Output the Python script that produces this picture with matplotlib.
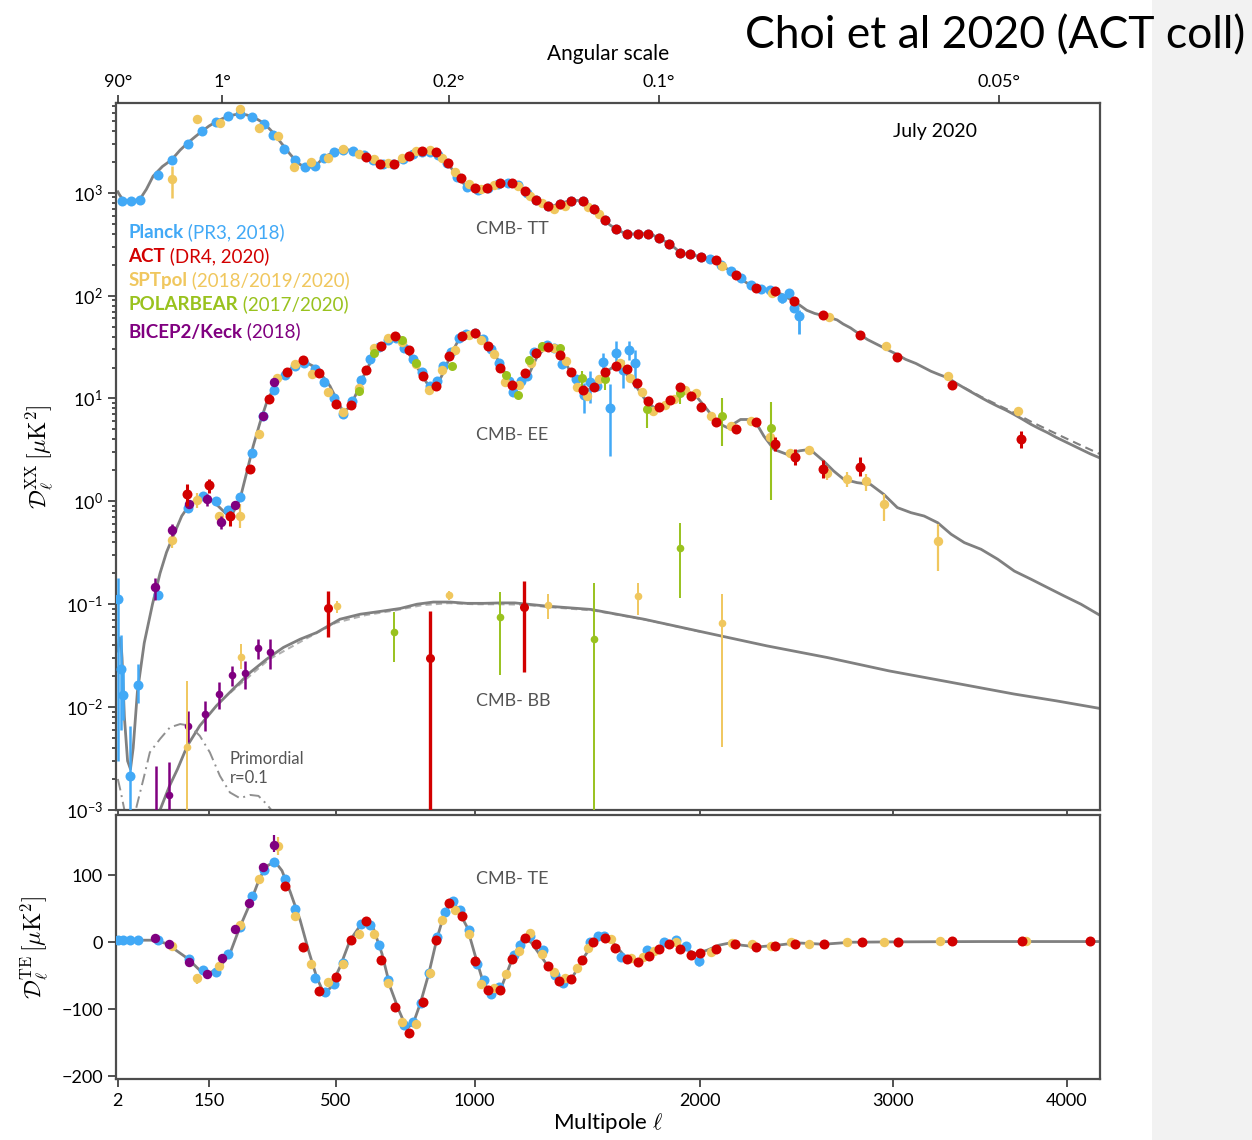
import numpy as np
import matplotlib
matplotlib.use("Agg")
import matplotlib.pyplot as plt
from matplotlib.patches import Rectangle
from matplotlib.ticker import FixedLocator, NullLocator, LogLocator, NullFormatter

plt.rcParams['font.family'] = ['Lato', 'DejaVu Sans']
plt.rcParams['mathtext.fontset'] = 'cm'

c_planck = "#42a9f6"
c_act = "#d20000"
c_spt = "#f0c75e"
c_pb = "#99c21e"
c_bk = "#800080"
c_th = "#808080"

# ---- theory curves (ell, D_ell)
tt_theory = [(2, 1020), (3, 960), (5, 880), (9, 840), (14, 835), (24, 860), (33, 1080), (43, 1450), (58, 1800),
             (74, 2090), (90, 2600), (105, 3055), (120, 3500), (134, 3940), (150, 4450), (167, 4920), (183, 5300),
             (199, 5600), (212, 5750), (224, 5800), (240, 5720), (254, 5510), (270, 5150), (286, 4750), (300, 4250),
             (312, 3830), (330, 3200), (346, 2735), (360, 2380), (375, 2090), (390, 1880), (405, 1786), (420, 1770),
             (435, 1828), (448, 1980), (460, 2188), (476, 2330), (492, 2444), (508, 2560), (524, 2614), (540, 2610),
             (557, 2557), (574, 2440), (591, 2286), (608, 2180), (625, 2090), (643, 1990), (660, 1914), (678, 1890),
             (695, 1914), (713, 2010), (731, 2140), (749, 2280), (767, 2393), (785, 2480), (800, 2502), (815, 2510),
             (830, 2502), (843, 2450), (856, 2338), (875, 2150), (893, 1954), (912, 1700), (932, 1429), (952, 1260),
             (972, 1143), (992, 1090), (1012, 1075), (1032, 1090), (1052, 1118), (1072, 1170), (1093, 1223),
             (1115, 1245), (1135, 1250), (1154, 1242), (1180, 1160), (1204, 1046), (1230, 940), (1253, 855),
             (1278, 790), (1302, 736), (1328, 750), (1353, 782), (1378, 815), (1403, 836), (1428, 842), (1453, 836),
             (1478, 780), (1503, 700), (1527, 610), (1551, 538), (1576, 485), (1601, 447), (1626, 418), (1652, 400),
             (1678, 398), (1704, 400), (1728, 402), (1752, 400), (1777, 385), (1802, 360), (1827, 340), (1852, 318),
             (1878, 290), (1903, 262), (1926, 255), (1950, 253), (1975, 246), (2002, 236), (2040, 226), (2075, 214),
             (2108, 195), (2140, 178), (2178, 160), (2217, 138), (2250, 126), (2276, 119), (2300, 117), (2326, 116),
             (2350, 114), (2376, 110), (2420, 100), (2470, 88), (2500, 81), (2538, 72), (2580, 67), (2624, 64),
             (2660, 61), (2698, 58), (2730, 53), (2770, 48.5), (2815, 42.5), (2861, 37.4), (2900, 34.5),
             (2933, 32.2), (2980, 29.2), (3024, 26.7), (3070, 24), (3127, 21.9), (3170, 20), (3211, 18.4),
             (3260, 17), (3306, 15.9), (3350, 14.2), (3398, 12.7), (3450, 11.3), (3496, 10.2), (3545, 9.2),
             (3592, 8.4), (3640, 7.7), (3687, 7.0), (3735, 6.3), (3787, 5.6), (3835, 5.1), (3885, 4.65),
             (3935, 4.2), (3983, 3.85), (4035, 3.5), (4085, 3.2), (4140, 2.9), (4200, 2.64)]
tt_theory_fg = [(3398, 12.8), (3496, 10.4), (3592, 8.65), (3687, 7.3), (3787, 5.95), (3885, 4.98),
                (3983, 4.18), (4085, 3.5), (4200, 2.88)]

ee_theory = [(2, 0.035), (3, 0.047), (4, 0.046), (5, 0.03), (7, 0.008), (10, 0.003), (13, 0.0025), (16, 0.004),
             (21, 0.014), (30, 0.042), (42, 0.1), (54, 0.2), (65, 0.32), (77, 0.46), (93, 0.72), (109, 0.935),
             (130, 1.087), (152, 1.05), (171, 0.9), (191, 0.75), (207, 0.78), (224, 1.05), (241, 1.9), (258, 3.44),
             (276, 5.8), (294, 9.1), (318, 13.7), (346, 17.8), (375, 20.9), (400, 23), (430, 20.6), (455, 17.1),
             (482, 13.2), (503, 9.8), (525, 7.4), (547, 8.3), (569, 11.4), (592, 16.5), (620, 23.9), (655, 32.2),
             (684, 37.4), (708, 38.8), (731, 32.2), (761, 24.8), (793, 17.8), (824, 13.2), (849, 12.7), (879, 17.8),
             (905, 25.8), (938, 37.4), (970, 41.5), (997, 43.4), (1025, 40), (1050, 34.7), (1089, 24.8),
             (1130, 16.5), (1173, 12.7), (1215, 15.9), (1257, 25.8), (1299, 32.2), (1343, 29.9), (1386, 20.6),
             (1430, 13.7), (1474, 11.8), (1518, 14.7), (1562, 18.4), (1607, 21.4), (1652, 17.1), (1700, 12.7),
             (1747, 9.1), (1794, 7.8), (1842, 8.75), (1890, 10.2), (1938, 11.8), (1986, 10.2), (2034, 7.8),
             (2084, 5.8), (2134, 5.2), (2199, 6.25), (2267, 6.25), (2317, 4.3), (2368, 3.2), (2436, 2.86),
             (2500, 3.1), (2555, 3.2), (2627, 2.46), (2680, 1.97), (2733, 1.64), (2805, 1.52), (2878, 1.46),
             (2950, 1.17), (3024, 0.87), (3100, 0.776), (3173, 0.72), (3249, 0.62), (3325, 0.479), (3400, 0.397),
             (3496, 0.342), (3592, 0.274), (3689, 0.21), (3787, 0.175), (3885, 0.145), (3985, 0.12), (4085, 0.1),
             (4200, 0.078)]

bb_theory = [(30, 0.00035), (40, 0.0006), (54, 0.001), (70, 0.0017), (85, 0.0025), (104, 0.0042), (130, 0.0066),
             (167, 0.0103), (207, 0.015), (250, 0.0217), (294, 0.0292), (341, 0.038), (390, 0.0457), (440, 0.053),
             (477, 0.0616), (514, 0.0715), (581, 0.08), (660, 0.086), (720, 0.091), (780, 0.1), (841, 0.105),
             (905, 0.105), (970, 0.102), (1036, 0.102), (1105, 0.103), (1163, 0.103), (1294, 0.096), (1490, 0.089),
             (1732, 0.0715), (2025, 0.053), (2331, 0.0394), (2647, 0.0303), (2978, 0.0225), (3325, 0.0174),
             (3687, 0.0134), (3937, 0.0115), (4200, 0.0097)]
bb_theory_alt = [(200, 0.0138), (300, 0.029), (400, 0.0448), (500, 0.066), (600, 0.0785), (700, 0.087),
                 (800, 0.098), (900, 0.1025), (1000, 0.1), (1100, 0.1), (1200, 0.099), (1300, 0.094),
                 (1500, 0.087), (1750, 0.07), (2000, 0.054)]

primordial_bb = [(2, 0.002), (4, 0.0015), (7, 0.001), (10, 0.0006), (14, 0.0004), (19, 0.001), (30, 0.00215),
                 (38, 0.00363), (54, 0.0049), (71, 0.00635), (90, 0.00684), (109, 0.0066), (130, 0.00525),
                 (152, 0.00363), (175, 0.00215), (199, 0.00148), (224, 0.0013), (250, 0.0014), (272, 0.00137),
                 (294, 0.00114), (307, 0.001), (320, 0.0008)]

te_theory = [(2, 3), (44, 3), (65, -2), (104, -24), (130, -42), (152, -46), (175, -37), (199, -17), (224, 23),
             (250, 58), (276, 97), (298, 115), (318, 120), (337, 107), (361, 75), (390, 33), (415, -12), (440, -52),
             (460, -74), (482, -69), (514, -37), (547, 3), (581, 25), (603, 30), (626, 20), (655, -17), (684, -67),
             (714, -101), (743, -129), (767, -121), (793, -91), (824, -47), (855, 6), (879, 38), (905, 59),
             (929, 53), (970, 23), (1004, -22), (1036, -62), (1071, -77), (1105, -70), (1150, -27), (1195, 6),
             (1230, 0), (1299, -34), (1358, -59), (1409, -52), (1460, -22), (1503, 0), (1547, 8), (1592, -2),
             (1646, -22), (1699, -29), (1753, -17), (1808, -7), (1864, 0), (1920, -9), (1977, -17), (2033, -12),
             (2091, -4.5), (2148, -1), (2205, -4.5), (2286, -7), (2385, -4.5), (2485, -1), (2627, -3), (2773, 0),
             (3000, 0.5), (3500, 1), (4200, 1)]

# ---- TT data (ell, D) and error bars (ell, low, high)
planck_tt = [(4.6, 836), (14, 836), (24, 855), (51, 1497), (75, 2060), (106, 2995), (135, 3940), (165, 4920),
             (195, 5510), (224, 5810), (254, 5430), (286, 4680), (313, 3656), (343, 2655), (375, 2060), (405, 1778),
             (435, 1800), (463, 2172), (496, 2461), (525, 2612), (556, 2570), (592, 2338), (625, 2090), (660, 1914),
             (695, 1914), (731, 2140), (767, 2393), (800, 2502), (830, 2502), (860, 2310), (893, 1954), (932, 1429),
             (972, 1143), (1012, 1075), (1052, 1118), (1093, 1223), (1135, 1250), (1175, 1180), (1215, 1000),
             (1253, 855), (1302, 736), (1353, 782), (1403, 836), (1453, 836), (1503, 700), (1551, 538), (1601, 447),
             (1652, 400), (1704, 400), (1752, 400), (1802, 360), (1852, 318), (1903, 260), (1950, 254), (2002, 236),
             (2050, 226), (2100, 200), (2150, 172), (2200, 147), (2250, 126), (2300, 117), (2350, 114), (2411, 95),
             (2445, 106), (2474, 76), (2500, 63)]
planck_tt_err = [(4.6, 770, 910), (2411, 85, 106), (2445, 97, 116), (2500, 42, 72)]

act_tt = [(600, 2250), (649, 1914), (699, 1914), (750, 2286), (799, 2518), (850, 2461), (898, 1942), (948, 1390),
          (1000, 1111), (1051, 1111), (1102, 1242), (1152, 1242), (1204, 1046), (1253, 855), (1302, 736), (1353, 782),
          (1403, 836), (1453, 836), (1503, 700), (1551, 538), (1601, 447), (1652, 400), (1704, 400), (1752, 400),
          (1802, 360), (1852, 318), (1903, 260), (1950, 254), (2002, 236), (2075, 224), (2178, 160), (2276, 119),
          (2376, 112), (2470, 88), (2623, 64.4), (2823, 41.8), (3024, 25.4), (3330, 13.6), (3728, 4.07)]
act_tt_err = [(3728, 3.3, 4.8)]

spt_tt = [(74, 1359), (124, 5220), (175, 4750), (224, 6550), (274, 4250), (325, 3596), (373, 1778), (423, 1970),
          (475, 2170), (525, 2655), (575, 2376), (626, 2123), (675, 1942), (726, 2172), (775, 2518), (827, 2576),
          (873, 2172), (925, 1574), (977, 1223), (1024, 1086), (1076, 1196), (1177, 1169), (1226, 920), (1275, 794),
          (1328, 700), (1375, 736), (1475, 726), (1524, 625), (2108, 195), (2360, 106), (2656, 62), (2960, 32.7),
          (3310, 16.5), (3710, 7.5)]
spt_tt_err = [(74, 889, 1800), (224, 5940, 7150), (3710, 6.9, 8.3)]

# ---- EE data
planck_ee = [(2.2, 0.112), (3.9, 0.0234), (6, 0.0131), (12.4, 0.00215), (22, 0.0165), (51, 0.123), (106, 0.855),
             (136, 1.13), (165, 1.0), (195, 0.82), (225, 1.1), (254, 2.97), (284, 6.7), (314, 12.0), (346, 17.1),
             (375, 20.9), (402, 22.2), (435, 19.4), (464, 14.4), (496, 10.0), (525, 7.1), (554, 9.4), (584, 15.1),
             (615, 24.3), (645, 31.5), (675, 36.8), (705, 38.5), (733, 31.0), (766, 24.3), (799, 18.0), (830, 13.2),
             (855, 14.7), (879, 20.9), (908, 28.0), (938, 38.8), (968, 42.0), (1000, 43.0), (1035, 38.0),
             (1065, 30.0), (1098, 22.2), (1137, 14.7), (1155, 11.5), (1187, 14.7), (1215, 16.5), (1243, 28.2),
             (1299, 32.9), (1330, 31.0), (1364, 21.4), (1423, 15.3), (1459, 10.9), (1485, 14.4), (1518, 13.2),
             (1545, 22.7), (1576, 8.1), (1604, 27.8), (1633, 19.1), (1662, 29.4), (1692, 22.2)]
planck_ee_err = [(2.2, 0.003, 0.18), (3.9, 0.006, 0.05), (6, 0.0075, 0.025), (12.4, 0.0008, 0.0065),
                 (22, 0.011, 0.026), (1459, 7.3, 14.2), (1485, 9.1, 18.4), (1545, 18.4, 27.8), (1576, 2.75, 13.7),
                 (1604, 21.4, 36.0), (1633, 12.7, 23.9), (1662, 23.9, 36.0), (1692, 12.7, 29.9)]

act_ee = [(104, 1.17), (151, 1.44), (200, 0.72), (250, 2.05), (302, 9.8), (351, 18.2), (400, 23.6), (448, 17.8),
          (500, 8.75), (550, 8.55), (600, 19.1), (651, 32.7), (700, 40.3), (750, 29.9), (802, 16.7), (852, 13.2),
          (902, 25.8), (950, 40.3), (1001, 43.4), (1052, 32.7), (1102, 19.9), (1152, 13.4), (1204, 17.8),
          (1253, 27.8), (1302, 31.8), (1353, 26.7), (1403, 18.2), (1453, 12.2), (1503, 13.0), (1551, 18.2),
          (1601, 20.6), (1652, 19.4), (1700, 14.0), (1752, 9.4), (1802, 8.2), (1854, 9.6), (1903, 12.9),
          (1955, 10.5), (2002, 8.3), (2079, 5.9), (2176, 5.0), (2276, 5.9), (2376, 3.57), (2475, 2.72),
          (2623, 2.05), (2823, 2.15)]
act_ee_err = [(104, 0.9, 1.46), (151, 1.21, 1.64), (200, 0.575, 0.805), (2376, 3.1, 4.2), (2475, 2.25, 3.25),
              (2623, 1.7, 2.5), (2823, 1.75, 2.7)]

spt_ee = [(74, 0.42), (124, 1.03), (173, 0.72), (224, 0.72), (274, 4.54), (324, 15.9), (375, 21.4), (425, 17.4),
          (475, 11.5), (525, 7.4), (575, 12.7), (626, 31.0), (675, 38.8), (726, 35.3), (775, 21.4), (825, 12.2),
          (874, 19.1), (925, 29.4), (977, 41.8), (1027, 37.4), (1076, 27.2), (1123, 14.4), (1180, 13.4),
          (1230, 22.2), (1277, 31.8), (1328, 31.0), (1380, 23.0), (1427, 13.0), (1474, 10.5), (1524, 15.3),
          (1620, 22.2), (1668, 15.9), (1722, 11.5), (1776, 7.5), (1830, 8.55), (1873, 9.9), (1926, 12.0),
          (1977, 11.4), (2053, 6.8), (2150, 5.4), (2250, 6.1), (2350, 4.2), (2450, 2.92), (2547, 3.13),
          (2645, 1.87), (2752, 1.64), (2854, 1.57), (2950, 0.935), (3252, 0.412)]
spt_ee_err = [(74, 0.35, 0.5), (124, 0.87, 1.2), (224, 0.55, 0.94), (2645, 1.6, 2.2), (2752, 1.37, 1.91),
              (2854, 1.26, 1.83), (2950, 0.64, 1.17), (3252, 0.21, 0.6)]

pb_ee = [(575, 11.8), (626, 27.8), (726, 36.8), (775, 22.2), (911, 20.6), (1126, 17.1), (1176, 10.7), (1222, 23.9),
         (1275, 32.7), (1354, 31.0), (1452, 15.9), (1551, 15.3), (1747, 7.9), (1903, 11.4), (2105, 6.7), (2354, 5.2)]
pb_ee_err = [(1452, 12.2, 18.4), (1551, 12.2, 17.1), (1747, 5.2, 9.1), (1903, 8.75, 12.7), (2105, 3.44, 10.0),
             (2354, 1.02, 9.2)]

bk_ee = [(46, 0.147), (74, 0.526), (107, 0.935), (145, 1.05), (178, 0.635), (212, 0.914), (283, 6.8), (314, 14.4)]
bk_ee_err = [(46, 0.11, 0.18), (74, 0.46, 0.6), (145, 0.9, 1.17), (178, 0.535, 0.72)]

# ---- BB data
bk_bb = [(48, 0.0007), (70, 0.0014), (106, 0.0066), (142, 0.00855), (173, 0.0134), (204, 0.0206), (238, 0.0214),
         (270, 0.0372), (304, 0.0347)]
bk_bb_err = [(48, 0.0005, 0.0027), (70, 0.0008, 0.0029), (106, 0.0046, 0.0092), (142, 0.0059, 0.0115),
             (173, 0.0096, 0.0174), (204, 0.0161, 0.0252), (238, 0.015, 0.0282), (270, 0.0292, 0.0457),
             (304, 0.0234, 0.0457)]
spt_bb = [(103, 0.0041), (227, 0.0308), (503, 0.0965), (902, 0.122), (1303, 0.0977), (1704, 0.12), (2105, 0.065)]
spt_bb_err = [(103, 0.0009, 0.018), (227, 0.0234, 0.041), (503, 0.083, 0.108), (902, 0.11, 0.135),
              (1303, 0.0715, 0.125), (1704, 0.078, 0.162), (2105, 0.0041, 0.125)]
act_bb = [(475, 0.0914), (830, 0.0297), (1200, 0.095)]
act_bb_err = [(475, 0.0485, 0.135), (830, 0.0005, 0.086), (1200, 0.0217, 0.168)]
pb_bb = [(699, 0.0538), (1100, 0.0754), (1503, 0.0457), (1903, 0.355)]
pb_bb_err = [(699, 0.0272, 0.0836), (1100, 0.0205, 0.131), (1503, 0.0005, 0.162), (1903, 0.116, 0.62)]

# ---- TE data
planck_te = [(2.2, 3), (6, 3), (12, 3), (22, 3), (51, 3), (108, -25), (136, -41), (165, -44), (195, -18), (225, 23),
             (256, 69), (286, 108), (315, 120), (346, 94), (375, 49), (435, -53), (467, -74), (496, -62), (525, -31),
             (584, 27), (615, 25), (646, -3.5), (675, -56), (733, -124), (766, -119), (796, -91), (824, -46), (855, 8),
             (886, 45), (915, 62), (944, 48), (977, 18), (1008, -33), (1036, -57), (1067, -78), (1098, -67),
             (1160, -19), (1183, -4.5), (1226, 9), (1279, -11), (1333, -49), (1367, -61), (1486, 0), (1521, 10),
             (1547, 10), (1628, -22), (1744, -12), (1825, 0), (1883, 3), (1930, -6), (1992, -28)]
planck_te_err = [(1992, -36, -20)]
act_te = [(346, 84), (400, -7), (448, -73), (500, -52), (550, 4), (600, 31), (651, -26), (700, -97), (750, -135),
          (802, -90), (852, 4), (902, 58), (950, 39), (1001, -28), (1052, -71), (1102, -71), (1152, -25), (1205, 6),
          (1250, -2), (1303, -36), (1350, -58), (1400, -55), (1452, -27), (1500, 0), (1552, 6), (1600, -8.5),
          (1651, -25), (1703, -29), (1753, -20), (1803, -9.5), (1852, -3), (1902, -9.5), (1954, -19), (1999, -16),
          (2075, -9.5), (2173, -2), (2276, -7), (2376, -6), (2478, -2), (2627, -2), (2830, 0), (3028, 0),
          (3331, 1.5), (3735, 1.5), (4140, 2)]
spt_te = [(75, -6), (124, -53), (173, -36), (224, 26), (274, 94), (325, 144), (375, 39), (423, -32), (475, -59),
          (525, -32), (575, 12), (626, 12), (675, -61), (726, -120), (775, -122), (827, -46), (873, 33), (925, 48),
          (977, 13), (1024, -63), (1076, -68), (1125, -48), (1180, -13), (1226, 14), (1275, -18), (1329, -45),
          (1375, -53), (1427, -38), (1478, -8.5), (1579, 5.5), (1673, -24), (1727, -22), (1780, -13), (1883, 0),
          (2053, -14), (2157, -1), (2257, -3), (2354, -6), (2454, 0), (2549, -2), (2752, 0), (2950, 0),
          (3260, 1.5), (3760, 1.5)]
spt_te_err = [(124, -62, -47), (325, 130, 157)]
bk_te = [(46, 6), (70, -3), (107, -29), (145, -48), (180, -24), (212, 19), (248, 58), (283, 112), (314, 145)]
bk_te_err = [(314, 135, 160)]

legend_names = ["Planck", "ACT", "SPTpol", "POLARBEAR", "BICEP2/Keck"]
legend_refs = [" (PR3, 2018)", " (DR4, 2020)", " (2018/2019/2020)", " (2017/2020)", " (2018)"]
legend_cols = [c_planck, c_act, c_spt, c_pb, c_bk]


def fwd(x):
    x = np.asarray(x, float)
    return np.sign(x) * np.abs(x) ** 0.7


def inv(y):
    y = np.asarray(y, float)
    return np.sign(y) * np.abs(y) ** (1 / 0.7)


def line(axis, data, **kw):
    a = np.array(data, float)
    axis.plot(a[:, 0], a[:, 1], **kw)


def dots(axis, data, color, ms=7, z=4):
    a = np.array(data, float)
    axis.plot(a[:, 0], a[:, 1], 'o', color=color, ms=ms, mec='none', zorder=z)


def bars(axis, data, color, lw=1.6, z=4):
    a = np.array(data, float)
    axis.vlines(a[:, 0], a[:, 1], a[:, 2], color=color, lw=lw, zorder=z)


fig = plt.figure(figsize=(12.52, 11.40), dpi=100)
fig.patches.append(Rectangle((1152 / 1252, 0), 100 / 1252, 1, transform=fig.transFigure,
                             facecolor="#f2f2f2", edgecolor="none", zorder=-5))

ax = fig.add_axes([0.0927, 0.2895, 0.7859, 0.6204])
axte = fig.add_axes([0.0927, 0.0532, 0.7859, 0.2318])

# theory
line(ax, tt_theory, color=c_th, lw=2, zorder=2)
line(ax, tt_theory_fg, color=c_th, lw=1.5, ls=(0, (4, 2.5)), zorder=2)
line(ax, ee_theory, color=c_th, lw=2, zorder=2)
line(ax, bb_theory_alt, color="#b0b0b0", lw=1.5, ls=(0, (3, 2)), zorder=2)
line(ax, bb_theory, color=c_th, lw=2, zorder=2)
line(ax, primordial_bb, color="#909090", lw=1.4, ls=(0, (6, 2.5, 1, 2.5)), zorder=2)
line(axte, te_theory, color=c_th, lw=2, zorder=2)

# TT
dots(ax, planck_tt, c_planck, 7.2, 3)
bars(ax, planck_tt_err, c_planck, 2, 3)
dots(ax, spt_tt, c_spt, 6.8, 4)
bars(ax, spt_tt_err, c_spt, 1.8, 4)
dots(ax, act_tt, c_act, 7.2, 5)
bars(ax, act_tt_err, c_act, 2.2, 5)
# EE
dots(ax, planck_ee, c_planck, 7.2, 3)
bars(ax, planck_ee_err, c_planck, 1.8, 3)
dots(ax, spt_ee, c_spt, 6.8, 4)
bars(ax, spt_ee_err, c_spt, 1.6, 4)
dots(ax, pb_ee, c_pb, 6.5, 4)
bars(ax, pb_ee_err, c_pb, 1.5, 4)
dots(ax, bk_ee, c_bk, 6.8, 4)
bars(ax, bk_ee_err, c_bk, 1.8, 4)
dots(ax, act_ee, c_act, 7.2, 5)
bars(ax, act_ee_err, c_act, 2.2, 5)
# BB
dots(ax, bk_bb, c_bk, 5.5, 4)
bars(ax, bk_bb_err, c_bk, 1.8, 4)
dots(ax, spt_bb, c_spt, 5.5, 4)
bars(ax, spt_bb_err, c_spt, 1.4, 4)
dots(ax, pb_bb, c_pb, 5.5, 4)
bars(ax, pb_bb_err, c_pb, 1.4, 4)
dots(ax, act_bb, c_act, 6.5, 5)
bars(ax, act_bb_err, c_act, 2.4, 5)
# TE
dots(axte, planck_te, c_planck, 7.2, 3)
bars(axte, planck_te_err, c_planck, 1.8, 3)
dots(axte, spt_te, c_spt, 6.8, 4)
bars(axte, spt_te_err, c_spt, 1.6, 4)
dots(axte, bk_te, c_bk, 6.8, 4)
bars(axte, bk_te_err, c_bk, 1.6, 4)
dots(axte, act_te, c_act, 7.2, 5)

# axes styling
for a in (ax, axte):
    a.set_xscale('function', functions=(fwd, inv))
    a.set_xlim(1, 4200)
    a.xaxis.set_major_locator(FixedLocator([2, 150, 500, 1000, 2000, 3000, 4000]))
    a.xaxis.set_minor_locator(NullLocator())
    a.tick_params(which='both', direction='out', labelsize=13, color='#333333', width=1.2)
    a.tick_params(which='major', length=6)
    for s in a.spines.values():
        s.set_color('#4d4d4d')
        s.set_linewidth(1.6)

ax.set_yscale('log')
ax.set_ylim(1e-3, 7500)
ax.yaxis.set_major_locator(LogLocator(base=10, numticks=20))
ax.yaxis.set_minor_locator(LogLocator(base=10, subs=np.arange(2, 10), numticks=20))
ax.yaxis.set_minor_formatter(NullFormatter())
ax.tick_params(which='minor', length=3)
ax.tick_params(axis='x', labelbottom=False)

axte.set_ylim(-205, 190)
axte.yaxis.set_major_locator(FixedLocator([-200, -100, 0, 100]))
axte.set_xticklabels(['2', '150', '500', '1000', '2000', '3000', '4000'])
axte.set_xlabel(r'Multipole $\ell$', fontsize=16, labelpad=2)

ax.set_ylabel(r'$\mathcal{D}_\ell^{\rm XX}\,[\mu{\rm K}^2]$', fontsize=17, labelpad=8)
axte.set_ylabel(r'$\mathcal{D}_\ell^{\rm TE}\,[\mu{\rm K}^2]$', fontsize=17, labelpad=8)

top = ax.twiny()
top.set_xscale('function', functions=(fwd, inv))
top.set_xlim(1, 4200)
top.xaxis.set_major_locator(FixedLocator([2, 180, 900, 1800, 3600]))
top.xaxis.set_minor_locator(NullLocator())
top.set_xticklabels([u'90\u00b0', u'1\u00b0', u'0.2\u00b0', u'0.1\u00b0', u'0.05\u00b0'])
top.tick_params(direction='out', labelsize=13, length=6, color='#333333', width=1.2)
top.set_xlabel('Angular scale', fontsize=15, labelpad=10)
for s in top.spines.values():
    s.set_visible(False)

# annotations
ax.text(1005, 440, 'CMB- TT', color='#555555', fontsize=13, va='center')
ax.text(1005, 4.4, 'CMB- EE', color='#555555', fontsize=13, va='center')
ax.text(1005, 0.0115, 'CMB- BB', color='#555555', fontsize=13, va='center')
axte.text(1005, 95, 'CMB- TE', color='#555555', fontsize=13, va='center')
ax.text(2999, 3900, 'July 2020', color='black', fontsize=14, va='center')
ax.text(199, 0.0031, 'Primordial', color='#555555', fontsize=12, va='center')
ax.text(199, 0.00205, 'r=0.1', color='#555555', fontsize=12, va='center')

ys = [0.8158, 0.7819, 0.748, 0.714, 0.6758]
for name, ref, col, y in zip(legend_names, legend_refs, legend_cols, ys):
    t = ax.text(0.0122, y, name, transform=ax.transAxes, color=col, fontsize=13.5, fontweight='bold',
                va='center')
    ax.annotate(ref, xy=(1, 0), xycoords=t, va='bottom', ha='left', color=col, fontsize=13.5)

fig.text(745 / 1252, 1 - 48 / 1140, 'Choi et al 2020 (ACT coll)', fontsize=32, color='black',
         va='baseline', ha='left')

fig.savefig('out.png', dpi=100)
